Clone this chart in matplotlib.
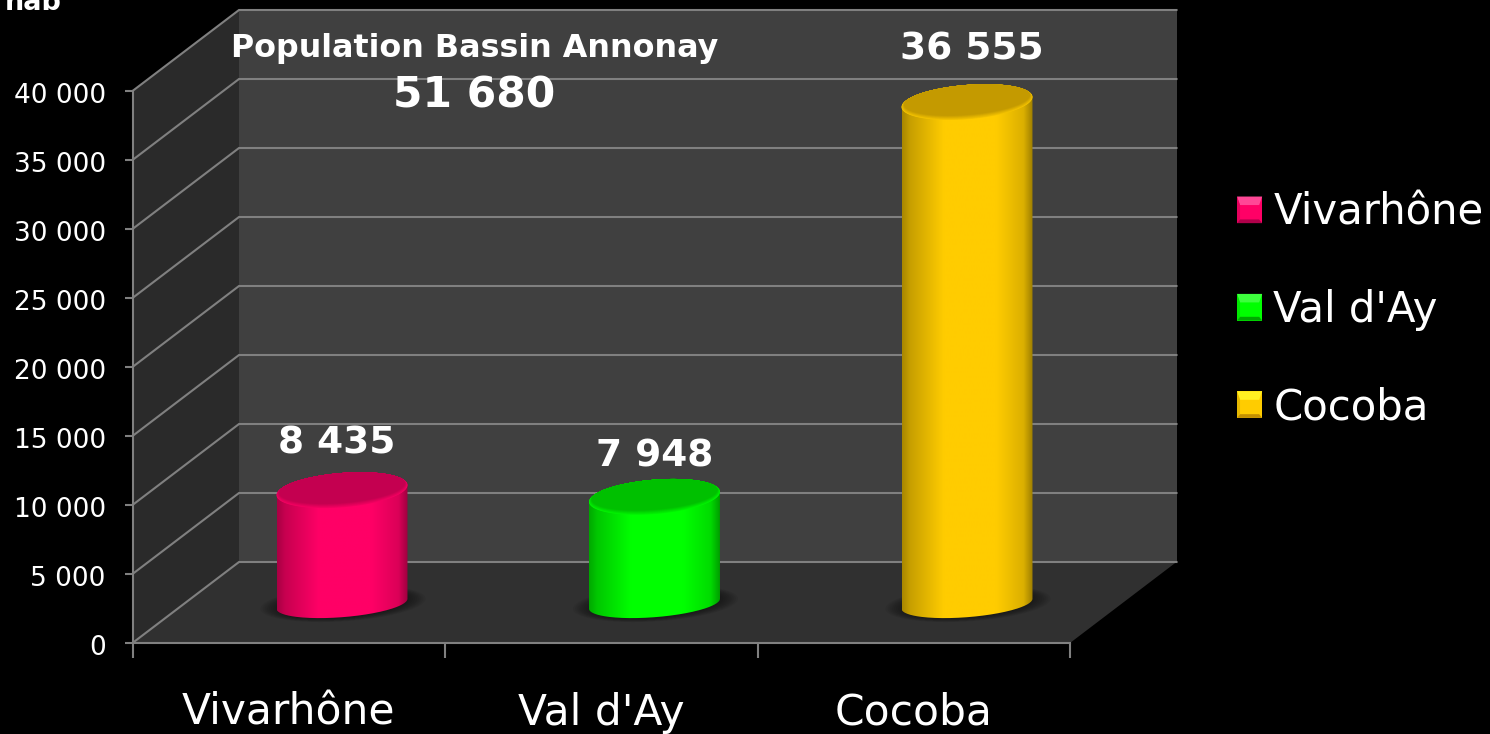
#!/usr/bin/env python3
"""Population by intercommunality - fake 3D cylinder chart on black"""

import numpy as np
import matplotlib
matplotlib.use('Agg')
import matplotlib.pyplot as plt
from matplotlib.colors import to_rgb
from matplotlib.legend_handler import HandlerBase
from matplotlib.patches import Patch, PathPatch, Polygon
from matplotlib.path import Path
from matplotlib.transforms import ScaledTranslation

# Data
categories = ["Vivarhône", "Val d'Ay", "Cocoba"]
values = [8435, 7948, 36555]
value_labels = ["8 435", "7 948", "36 555"]
y_ticks = [0, 5000, 10000, 15000, 20000, 25000, 30000, 35000, 40000]
y_tick_labels = ["0", "5 000", "10 000", "15 000", "20 000", "25 000", "30 000", "35 000", "40 000"]
total_title = "Population Bassin Annonay"
total_label = "51 680"
unit_label = "hab"

# Colours (body, top face, legend light, legend dark)
body_colors = ['#ff0066', '#00ff00', '#ffcc00']
top_colors = ['#c40050', '#00c000', '#c49a00']
light_colors = ['#ff4796', '#3dff3d', '#fff022']
dark_colors = ['#b0004a', '#00a800', '#c49000']

GRID = '#808080'
W, H = 1490, 734

# Axes box is the front plane of the chart, in figure pixels
LEFT, RIGHT, BOTTOM, TOP = 132.5, 1070, 643, 91
SX = (RIGHT - LEFT) / 3.0       # pixels per category
SY = (BOTTOM - TOP) / 40000.0   # pixels per inhabitant
DEPTH_X = 106.5 / SX
DEPTH_V = 81 / SY
RADIUS = 65.5
BASE_V = 0.45 * DEPTH_V         # where value 0 of a cylinder sits on the floor


def ellipse_points(cx, cv, a=RADIUS, b=17.2, shear=5.0, n=200):
    """Tilted ellipse around (cx, cv), the sizes are in pixels"""
    t = np.linspace(0, 2 * np.pi, n)
    xs = a * np.cos(t)
    ys = b * np.sin(t) + shear * np.cos(t)
    return cx + xs / SX, cv + ys / SY


def draw_walls(ax):
    ax.add_patch(Polygon([(DEPTH_X, DEPTH_V), (3 + DEPTH_X, DEPTH_V),
                          (3 + DEPTH_X, 40000 + DEPTH_V), (DEPTH_X, 40000 + DEPTH_V)],
                         fc='#404040', ec='none', zorder=1, clip_on=False))
    ax.add_patch(Polygon([(0, 0), (DEPTH_X, DEPTH_V), (DEPTH_X, 40000 + DEPTH_V), (0, 40000)],
                         fc='#2a2a2a', ec='none', zorder=1, clip_on=False))
    ax.add_patch(Polygon([(0, 0), (3, 0), (3 + DEPTH_X, DEPTH_V), (DEPTH_X, DEPTH_V)],
                         fc='#303030', ec='none', zorder=1, clip_on=False))
    for v in y_ticks:
        ax.plot([0, DEPTH_X, 3 + DEPTH_X], [v, v + DEPTH_V, v + DEPTH_V],
                color=GRID, lw=1.5, zorder=2, clip_on=False, solid_joinstyle='miter')


def draw_cylinder(ax, i, value):
    cx = i + 0.5 + 0.5 * DEPTH_X
    top = BASE_V + value
    floor_v = 0.485 * DEPTH_V   # centre of the foot ellipse, it is flatter than the top

    # soft shadow on the floor
    for s in np.linspace(1.26, 1.0, 9):
        sx, sv = ellipse_points(cx + 1 / SX, floor_v, a=RADIUS * s, b=14 * s)
        ax.fill(sx, sv, color='black', alpha=0.055, lw=0, zorder=3, clip_on=False)

    # body: lower half of the foot ellipse, then straight up
    bx, bv = ellipse_points(cx, floor_v, b=13.5)
    tx, tv = ellipse_points(cx, top)
    half = len(bx) // 2
    order = np.argsort(bx[half:])
    xs = np.concatenate([bx[half:][order], tx[:half]])
    vs = np.concatenate([bv[half:][order], tv[:half]])
    body = PathPatch(Path(np.column_stack([xs, vs])), fc='none', ec='none', zorder=4, clip_on=False)
    ax.add_patch(body)

    rgb = np.array(to_rgb(body_colors[i]))
    shade = np.interp(np.linspace(0, 1, 256),
                      [0, 0.06, 0.32, 0.72, 0.93, 1], [0.66, 0.78, 1, 1, 0.86, 0.62])
    grad = (shade[:, None] * rgb)[None, :, :]
    im = ax.imshow(grad, extent=(cx - RADIUS / SX, cx + RADIUS / SX, BASE_V - 30 / SY, top + 30 / SY),
                   aspect='auto', interpolation='bilinear', zorder=4, clip_on=True)
    im.set_clip_path(body)

    # top face: bright rim at the front fading into the darker flat colour
    rim = rgb * 0.96
    inner = np.array(to_rgb(top_colors[i]))
    for f in np.linspace(0, 1, 12):
        ex, ev = ellipse_points(cx, top + 2.2 * f / SY, a=RADIUS * (1 - 0.04 * f),
                                b=17.2 * (1 - 0.13 * f), shear=5.0 * (1 - 0.04 * f))
        ax.fill(ex, ev, color=rim + (inner - rim) * f, lw=0, zorder=5, clip_on=False)


class BevelHandler(HandlerBase):
    """Small bevelled square for the legend: light on top, thin dark foot"""

    def create_artists(self, legend, orig_handle, xdescent, ydescent, width, height, fontsize, trans):
        i = categories.index(orig_handle.get_label())
        x0, y0 = -xdescent, -ydescent
        x1, y1 = x0 + width, y0 + height
        ix0, ix1 = x0 + 0.12 * width, x1 - 0.12 * width
        iy0, iy1 = y0 + 0.14 * height, y1 - 0.32 * height
        base = np.array(to_rgb(body_colors[i]))
        mid_left = base * 0.9
        artists = [
            Polygon([(x0, y0), (x1, y0), (x1, y1), (x0, y1)], fc=body_colors[i], ec='none', transform=trans),
            Polygon([(x0, y1), (x1, y1), (ix1, iy1), (ix0, iy1)], fc=light_colors[i], ec='none', transform=trans),
            Polygon([(x0, y1), (ix0, iy1), (ix0, iy0), (x0, y0)], fc=mid_left, ec='none', transform=trans),
            Polygon([(x0, y0), (ix0, iy0), (ix1, iy0), (x1, y0)], fc=dark_colors[i], ec='none', transform=trans),
        ]
        return artists


def main():
    plt.rcParams['font.family'] = 'DejaVu Sans'
    fig = plt.figure(figsize=(W / 100, H / 100), dpi=100, facecolor='black')
    ax = fig.add_axes([LEFT / W, (H - BOTTOM) / H, (RIGHT - LEFT) / W, (BOTTOM - TOP) / H],
                      facecolor='black')

    draw_walls(ax)
    for i, v in enumerate(values):
        draw_cylinder(ax, i, v)

    ax.set_xlim(0, 3)
    ax.set_ylim(0, 40000)

    for s in ['top', 'right']:
        ax.spines[s].set_visible(False)
    for s in ['left', 'bottom']:
        ax.spines[s].set_color(GRID)
        ax.spines[s].set_linewidth(1.5)
        ax.spines[s].set_zorder(6)

    ax.set_yticks(y_ticks, labels=y_tick_labels)
    ax.tick_params(axis='y', length=5.8, width=1.5, color=GRID, pad=13.5,
                   labelsize=19, labelcolor='white')
    # tick labels sit a little under their ticks
    shift = ScaledTranslation(0, -2 / 100, fig.dpi_scale_trans)
    for label in ax.get_yticklabels():
        label.set_transform(label.get_transform() + shift)
    ax.set_xticks([0, 1, 2, 3], labels=[])
    ax.set_xticks([0.5, 1.5, 2.5], labels=categories, minor=True)
    ax.tick_params(axis='x', which='major', length=10.8, width=1.5, color=GRID)
    ax.tick_params(axis='x', which='minor', length=0, pad=35, labelsize=30.5, labelcolor='white')

    # value labels above the bars
    offsets = [(-5, 47), (0, 40), (5, 53)]
    for i, v in enumerate(values):
        cx = i + 0.5 + 0.5 * DEPTH_X
        ax.annotate(value_labels[i], xy=(cx, BASE_V + v), xytext=offsets[i],
                    textcoords='offset pixels', ha='center', va='center', color='white',
                    fontsize=27, fontweight='bold', zorder=7, annotation_clip=False)

    fig.text(475 / W, 1 - 49 / H, total_title, ha='center', va='center', color='white',
             fontsize=22.9, fontweight='bold')
    fig.text(474.5 / W, 1 - 95 / H, total_label, ha='center', va='center', color='white',
             fontsize=30.5, fontweight='bold')
    fig.text(5 / W, 1 - 10 / H, unit_label, ha='left', va='baseline', color='white',
             fontsize=19.5, fontweight='bold')

    handles = [Patch(label=c) for c in categories]
    fig.legend(handles=handles, loc='center left', bbox_to_anchor=(1237 / W, 1 - 310 / H),
               frameon=False, fontsize=30.2, labelcolor='white', borderpad=0, borderaxespad=0,
               handlelength=0.6, handleheight=0.6, handletextpad=0.27, labelspacing=1.32,
               handler_map={Patch: BevelHandler()})

    fig.savefig('out.png', dpi=100, facecolor='black')
    plt.close(fig)


if __name__ == "__main__":
    main()
